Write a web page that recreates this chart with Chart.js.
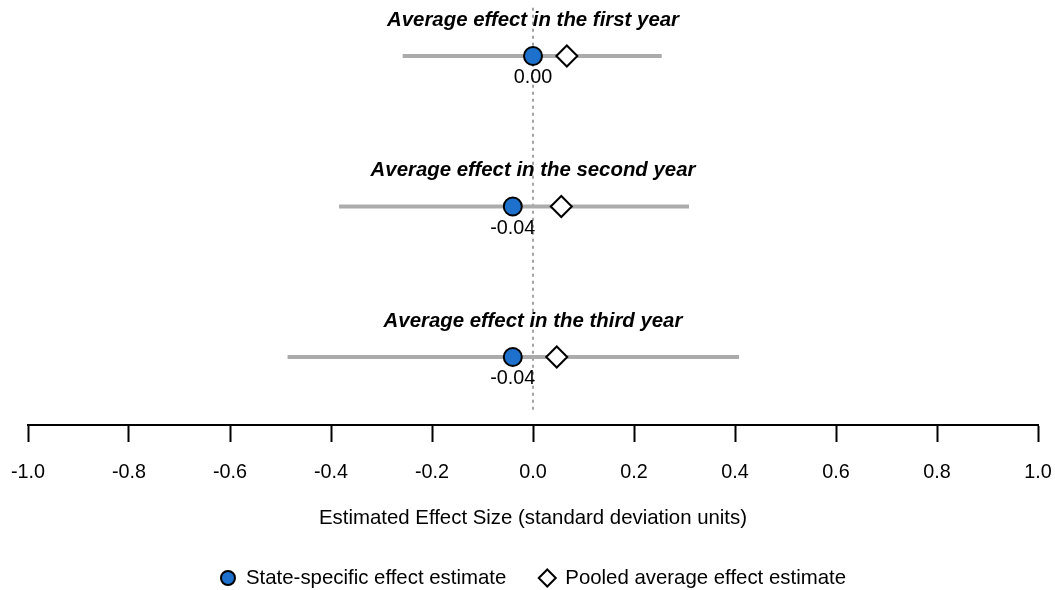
<!DOCTYPE html>
<html>
<head>
<meta charset="utf-8">
<script src="https://cdn.jsdelivr.net/npm/chart.js@4.4.1/dist/chart.umd.min.js"></script>
<style>
  html, body { margin: 0; padding: 0; background: #ffffff; }
  #wrap { width: 1055px; height: 590px; position: relative; }
</style>
</head>
<body>
<div id="wrap"><canvas id="c" width="1055" height="590"></canvas></div>
<script>
// Rows of the forest plot, top to bottom
const categories = [
  'Average effect in the first year',
  'Average effect in the second year',
  'Average effect in the third year'
];
// State-specific point estimates
const stateEstimates = [0.00, -0.04, -0.04];
// Confidence interval bounds
const ciLower = [-0.258, -0.384, -0.486];
const ciUpper = [0.255, 0.309, 0.408];
// Pooled average effect estimates
const pooledEstimates = [0.067, 0.056, 0.047];
// X-axis tick values
const xTicks = [-1.0, -0.8, -0.6, -0.4, -0.2, 0.0, 0.2, 0.4, 0.6, 0.8, 1.0];

const FONT = "'Liberation Sans', Arial, Helvetica, sans-serif";
// vertical slot of each row (first row on top)
const rowY = categories.map((_, i) => categories.length - i);

const datasets = [];
categories.forEach((cat, i) => {
  datasets.push({
    type: 'line',
    label: 'ci-' + i,
    data: [{ x: ciLower[i], y: rowY[i] }, { x: ciUpper[i], y: rowY[i] }],
    borderColor: '#ababab',
    borderWidth: 4,
    pointRadius: 0,
    borderCapStyle: 'butt',
    order: 3
  });
});
// dotted reference line at zero
datasets.push({
  type: 'line',
  label: 'zero',
  data: [{ x: 0, y: 3.32 }, { x: 0, y: 0.635 }],
  borderColor: '#a3a3a3',
  borderWidth: 2,
  borderDash: [3, 4],
  pointRadius: 0,
  order: 4
});
datasets.push({
  type: 'scatter',
  label: 'State-specific effect estimate',
  data: stateEstimates.map((v, i) => ({ x: v, y: rowY[i] })),
  pointStyle: 'circle',
  pointRadius: 9,
  backgroundColor: '#1d71cc',
  borderColor: '#000000',
  borderWidth: 2,
  order: 1,
  legendRadius: 7
});
datasets.push({
  type: 'scatter',
  label: 'Pooled average effect estimate',
  data: pooledEstimates.map((v, i) => ({ x: v, y: rowY[i] })),
  pointStyle: 'rectRot',
  pointRadius: 10.5,
  backgroundColor: '#ffffff',
  borderColor: '#000000',
  borderWidth: 2,
  order: 2,
  legendRadius: 8.5
});

// Row headings, value labels and the legend below the axis title
const annotations = {
  id: 'annotations',
  afterDraw(chart) {
    const { ctx, scales, chartArea } = chart;
    const xs = scales.x, ys = scales.y;
    ctx.save();
    ctx.textAlign = 'center';
    ctx.textBaseline = 'middle';
    ctx.fillStyle = '#000000';
    categories.forEach((cat, i) => {
      const py = ys.getPixelForValue(rowY[i]);
      ctx.font = `italic bold 20.4px ${FONT}`;
      ctx.fillText(cat, xs.getPixelForValue(0), py - 36);
      ctx.font = `19.8px ${FONT}`;
      ctx.fillText(stateEstimates[i].toFixed(2), xs.getPixelForValue(stateEstimates[i]), py + 22);
    });

    // legend
    const items = chart.data.datasets.filter(d => d.legendRadius);
    ctx.font = `20.4px ${FONT}`;
    const symW = 26, gap = 33;
    const widths = items.map(d => symW + ctx.measureText(d.label).width);
    const total = widths.reduce((a, b) => a + b, 0) + gap * (items.length - 1);
    let x = (chartArea.left + chartArea.right) / 2 - total / 2;
    const ly = 578;
    ctx.textAlign = 'left';
    items.forEach((d, i) => {
      ctx.fillStyle = d.backgroundColor;
      ctx.strokeStyle = d.borderColor;
      ctx.lineWidth = d.borderWidth;
      Chart.helpers.drawPoint(ctx, { pointStyle: d.pointStyle, radius: d.legendRadius, borderWidth: d.borderWidth, rotation: 0 }, x + 8, ly);
      ctx.fillStyle = '#000000';
      ctx.fillText(d.label, x + symW, ly);
      x += widths[i] + gap;
    });
    ctx.restore();
  }
};

new Chart(document.getElementById('c'), {
  data: { datasets },
  options: {
    responsive: false,
    animation: false,
    devicePixelRatio: 1,
    layout: { autoPadding: false, padding: { left: 28, right: 17, top: 0, bottom: 55.2 } },
    plugins: {
      tooltip: { enabled: false },
      legend: { display: false }
    },
    scales: {
      x: {
        type: 'linear',
        min: -1,
        max: 1,
        afterBuildTicks: (axis) => { axis.ticks = xTicks.map(v => ({ value: v })); },
        ticks: {
          color: '#000000',
          padding: 0,
          font: { family: FONT, size: 19.8 },
          callback: (v) => Number(v).toFixed(1)
        },
        grid: {
          drawOnChartArea: false,
          drawTicks: true,
          tickLength: 36,
          tickWidth: 2,
          tickColor: '#000000',
          tickBorderDash: [16, 100]
        },
        border: { display: true, color: '#000000', width: 2 },
        title: {
          display: true,
          text: 'Estimated Effect Size (standard deviation units)',
          color: '#000000',
          font: { family: FONT, size: 20.4 },
          padding: { top: 21, bottom: 4.5 }
        }
      },
      y: {
        type: 'linear',
        min: 0.548,
        max: 3.372,
        display: false
      }
    }
  },
  plugins: [annotations]
});
</script>
</body>
</html>
